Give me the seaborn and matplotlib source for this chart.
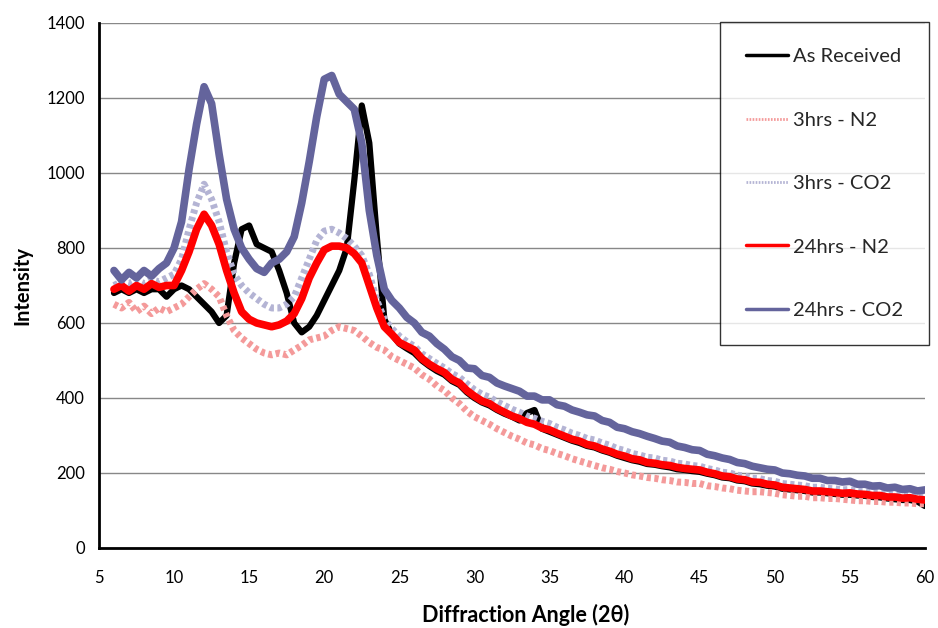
import numpy as np
import pandas as pd
import matplotlib
matplotlib.use("Agg")
import matplotlib.pyplot as plt
import seaborn as sns

# x grid: diffraction angle (2-theta), 6..60 in 0.5 deg steps
angle = np.arange(6.0, 60.01, 0.5)

as_received = [
    680, 690, 680, 690, 680, 690, 690, 670, 690, 700,        # 6.0-10.5
    690, 670, 650, 630, 600, 620, 760, 850, 860, 810,        # 11.0-15.5
    800, 790, 740, 680, 600, 575, 590, 620, 660, 700,        # 16.0-20.5
    740, 800, 980, 1180, 1080, 830, 610, 570, 545, 532,      # 21.0-25.5
    520, 500, 485, 472, 462, 445, 435, 415, 400, 388,        # 26.0-30.5
    380, 368, 358, 350, 340, 360, 368, 318, 310, 302,        # 31.0-35.5
    294, 286, 280, 272, 268, 260, 254, 246, 240, 234,        # 36.0-40.5
    230, 224, 222, 218, 215, 210, 208, 205, 203, 198,        # 41.0-45.5
    194, 188, 186, 180, 178, 172, 170, 166, 164, 158,        # 46.0-50.5
    156, 154, 152, 148, 148, 146, 144, 142, 142, 140,        # 51.0-55.5
    139, 136, 135, 132, 130, 128, 128, 124, 112,             # 56.0-60.0
]

hrs3_n2 = [
    650, 640, 655, 630, 645, 625, 640, 630, 640, 650,
    670, 690, 705, 690, 670, 620, 580, 560, 545, 530,
    520, 515, 520, 515, 528, 540, 555, 560, 565, 580,
    590, 585, 580, 565, 548, 535, 528, 510, 500, 490,
    480, 462, 450, 432, 420, 400, 385, 365, 350, 340,
    330, 318, 308, 298, 290, 280, 275, 265, 260, 252,
    246, 238, 232, 226, 220, 214, 210, 204, 200, 195,
    192, 188, 186, 182, 180, 176, 175, 172, 172, 166,
    164, 160, 158, 154, 152, 150, 150, 148, 146, 142,
    140, 138, 138, 134, 134, 132, 132, 130, 128, 126,
    126, 124, 124, 122, 122, 120, 120, 118, 118,
]

hrs3_co2 = [
    700, 710, 705, 715, 705, 715, 710, 720, 730, 770,
    850, 920, 970, 930, 870, 790, 730, 700, 680, 665,
    650, 640, 640, 650, 670, 720, 770, 820, 845, 850,
    840, 825, 805, 780, 730, 660, 610, 585, 565, 550,
    538, 518, 505, 492, 480, 465, 455, 438, 422, 410,
    402, 390, 380, 370, 362, 352, 346, 338, 332, 322,
    315, 306, 300, 292, 288, 280, 274, 265, 260, 252,
    248, 242, 240, 234, 232, 226, 224, 220, 218, 212,
    208, 202, 200, 194, 192, 186, 185, 180, 178, 172,
    170, 168, 166, 162, 162, 159, 158, 155, 156, 152,
    151, 148, 148, 145, 145, 142, 142, 139, 138,
]

hrs24_n2 = [
    690, 700, 685, 700, 690, 705, 695, 700, 700, 740,
    790, 850, 890, 860, 810, 740, 680, 630, 610, 600,
    595, 590, 595, 605, 625, 665, 720, 760, 795, 805,
    805, 800, 785, 760, 700, 640, 590, 570, 548, 538,
    528, 505, 490, 478, 468, 450, 440, 420, 405, 392,
    385, 372, 362, 352, 345, 335, 330, 320, 315, 306,
    298, 290, 285, 276, 272, 264, 258, 250, 245, 238,
    235, 228, 226, 222, 220, 215, 212, 210, 208, 202,
    198, 192, 190, 184, 182, 176, 175, 170, 168, 162,
    160, 158, 156, 152, 152, 150, 148, 146, 147, 144,
    143, 140, 140, 136, 136, 133, 134, 130, 128,
]

hrs24_co2 = [
    740, 715, 735, 720, 740, 725, 745, 760, 800, 870,
    1010, 1130, 1230, 1185, 1050, 930, 850, 800, 770, 745,
    735, 760, 770, 790, 830, 920, 1030, 1150, 1250, 1260,
    1210, 1190, 1170, 1080, 900, 780, 690, 660, 640, 615,
    600, 575, 565, 545, 530, 510, 500, 480, 478, 460,
    455, 440, 432, 425, 418, 405, 405, 395, 395, 382,
    378, 368, 362, 355, 352, 340, 335, 322, 318, 310,
    305, 298, 292, 285, 282, 272, 268, 262, 260, 250,
    246, 240, 236, 228, 225, 218, 214, 210, 208, 200,
    198, 194, 192, 186, 186, 180, 180, 176, 178, 170,
    170, 165, 166, 160, 162, 156, 158, 152, 155,
]

labels = ["As Received", "3hrs - N2", "3hrs - CO2", "24hrs - N2", "24hrs - CO2"]
series = [as_received, hrs3_n2, hrs3_co2, hrs24_n2, hrs24_co2]
colors = ["#000000", "#F49A9A", "#B4B4D4", "#FF0000", "#64649C"]
styles = ["-", (0, (0.6, 0.5)), (0, (0.6, 0.5)), "-", "-"]
widths = [4.5, 5.0, 5.0, 5.5, 5.5]
leg_widths = [2.5, 2.0, 2.0, 2.5, 2.5]

x_ticks = list(range(5, 61, 5))
y_ticks = list(range(0, 1401, 200))

sns.set_theme(style="white")
plt.rcParams["font.family"] = ["Lato", "DejaVu Sans"]

fig = plt.figure(figsize=(9.38, 6.28), dpi=100)
ax = fig.add_axes([0.1055, 0.1274, 0.8806, 0.836])

for lab, vals, c, ls, lw in zip(labels, series, colors, styles, widths):
    df = pd.DataFrame({"angle": angle, "intensity": vals})
    sns.lineplot(data=df, x="angle", y="intensity", ax=ax, color=c,
                 linestyle=ls, linewidth=lw, label=lab, estimator=None,
                 sort=False)

ax.set_xlim(5, 60)
ax.set_ylim(0, 1400)
ax.set_xticks(x_ticks)
ax.set_yticks(y_ticks)
ax.yaxis.grid(True, color="#888888", linewidth=1.0)
ax.set_axisbelow(True)
for s in ["top", "right"]:
    ax.spines[s].set_visible(False)
for s in ["left", "bottom"]:
    ax.spines[s].set_color("black")
    ax.spines[s].set_linewidth(2.0)
ax.tick_params(axis="both", direction="out", length=5, width=1.5,
               color="black", labelsize=12, labelcolor="black", pad=5)
ax.tick_params(axis="x", pad=11)
ax.set_xlabel("Diffraction Angle (2θ)", fontsize=15.5, fontweight="bold",
              color="black")
ax.xaxis.set_label_coords(0.516, -0.106)
ax.set_ylabel("Intensity", fontsize=14.5, fontweight="bold", labelpad=10,
              color="black")

leg = ax.legend(loc="upper right", bbox_to_anchor=(0.9905, 0.965),
                bbox_transform=fig.transFigure, frameon=True, fancybox=False,
                fontsize=14.5, labelspacing=2.3, handlelength=2.05,
                handletextpad=0.25, borderpad=1.3, borderaxespad=0)
leg.get_frame().set_edgecolor("black")
leg.get_frame().set_linewidth(1.0)
for line, w in zip(leg.get_lines(), leg_widths):
    line.set_linewidth(w)

fig.savefig("out.png", dpi=100)
